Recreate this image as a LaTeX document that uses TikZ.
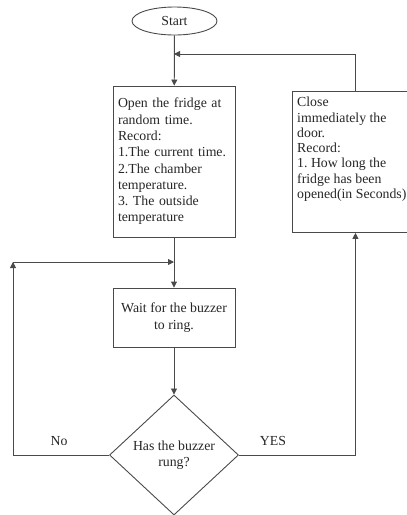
\documentclass[tikz,border=0pt]{standalone}
\usepackage{fontspec}
\setmainfont{Liberation Serif}
\usetikzlibrary{shapes.geometric,arrows.meta}
\definecolor{ln}{HTML}{4A4A4A}
\definecolor{tx}{HTML}{262626}
\tikzset{
  base/.style={font=\fontsize{13.8}{16.3}\selectfont\frenchspacing, text=tx},
  box/.style={base, draw=ln, line width=0.9pt, inner xsep=5pt, inner ysep=0pt},
  term/.style={base, draw=ln, line width=0.9pt, ellipse, minimum width=85pt, minimum height=28pt, inner sep=0pt},
  decision/.style={base, draw=ln, line width=0.9pt, diamond, minimum width=129pt, minimum height=120pt, inner sep=0pt, align=center},
  arr/.style={draw=ln, line width=0.9pt, -{Triangle[length=6pt,width=6pt]}},
  lbl/.style={base, inner sep=0pt}
}
\begin{document}
\begin{tikzpicture}[x=1pt,y=-1pt]
\useasboundingbox (0,0) rectangle (407,515);
\node[term] (start) at (174.5,21) {Start};
\node[box, minimum width=122pt, minimum height=151pt, text width=112pt, align=left] (open) at (174,161.5)
  {Open the fridge at\\random time.\\Record:\\1.The current time.\\2.The chamber\\temperature.\\3. The outside\\temperature};
\node[box, minimum width=122pt, minimum height=59pt, align=center] (wait) at (174,317.5) {Wait for the buzzer\\to ring.};
\node[decision] (dec) at (174,455) {Has the buzzer\\rung?};
\node[box, minimum width=126pt, minimum height=141pt, anchor=north west] (close) at (292,91) {};
\node[lbl, anchor=north west, align=left, font=\fontsize{13.8}{15.3}\selectfont\frenchspacing] (closetext) at (297,97)
  {Close\\immediately the\\door.\\Record:\\1. How long the\\fridge has been\\opened(in Seconds)};
\node[lbl] (no) at (59,441) {No};
\node[lbl] (yes) at (273,441) {YES};
\coordinate (fb) at (174,54);
\coordinate (loopin) at (174,262);
\coordinate (lc) at (13,262);
\draw[arr] (start) -- (open);
\draw[arr] (close.north) |- (fb);
\draw[arr] (open) -- (wait);
\draw[arr] (dec.west) -| (lc);
\draw[arr] (lc) -- (loopin);
\draw[arr] (wait) -- (dec);
\draw[arr] (dec.east) -| (close.south);
\end{tikzpicture}
\end{document}
